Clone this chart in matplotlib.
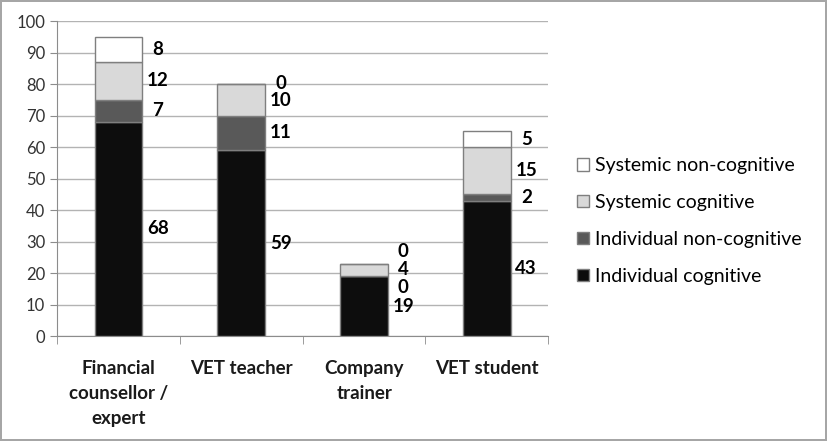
import matplotlib.pyplot as plt
import numpy as np

plt.rcParams['font.family'] = ['Lato', 'DejaVu Sans']

categories = ['Financial\ncounsellor /\nexpert', 'VET teacher', 'Company\ntrainer', 'VET student']
series = ['Individual cognitive', 'Individual non-cognitive', 'Systemic cognitive', 'Systemic non-cognitive']
ind_cog = [68, 59, 19, 43]
ind_noncog = [7, 11, 0, 2]
sys_cog = [12, 10, 4, 15]
sys_noncog = [8, 0, 0, 5]
colors = ['#0d0d0d', '#595959', '#d9d9d9', '#ffffff']


def spread(ys, gap):
    # push label positions apart so they don't overlap
    ys = list(ys)
    for _ in range(200):
        moved = False
        for k in range(len(ys) - 1):
            d = ys[k + 1] - ys[k]
            if d < gap - 1e-6:
                shift = (gap - d) / 2
                ys[k] -= shift
                ys[k + 1] += shift
                moved = True
        if not moved:
            break
    return ys


fig = plt.figure(figsize=(8.27, 4.41), dpi=100)
fig.patch.set_edgecolor('#a6a6a6')
fig.patch.set_linewidth(1.5)
ax = fig.add_axes([0.069, 0.238, 0.594, 0.714])

x = np.arange(len(categories))
width = 0.39
data = [ind_cog, ind_noncog, sys_cog, sys_noncog]
bottom = np.zeros(len(categories))
handles = []
for vals, name, col in zip(data, series, colors):
    b = ax.bar(x, vals, width, bottom=bottom, color=col, edgecolor='#7f7f7f',
               linewidth=1, label=name, zorder=3)
    handles.append(b)
    bottom += np.array(vals)

# data labels to the right of each bar
for i in range(len(categories)):
    mids = []
    base = 0
    for vals in data:
        mids.append(base + vals[i] / 2)
        base += vals[i]
    ys = spread(mids, 5.7)
    for vals, y in zip(data, ys):
        ax.text(x[i] + width / 2 + 0.125, y, str(vals[i]), ha='center', va='center',
                fontsize=13.5, fontweight='bold', color='#000000')

ax.set_xlim(-0.5, len(categories) - 0.5)
ax.set_ylim(0, 100)
ax.set_yticks(range(0, 101, 10))
ax.set_xticks(x)
ax.set_xticklabels(categories, fontsize=13.5, fontweight='bold', linespacing=1.6,
                   color='#1a1a1a')
ax.set_xticks(np.arange(-0.5, len(categories), 1), minor=True)
ax.tick_params(axis='x', which='major', length=0, pad=17)
ax.tick_params(axis='x', which='minor', length=6, color='#8c8c8c')
ax.tick_params(axis='y', length=5, color='#8c8c8c', labelsize=12, labelcolor='#333333')
ax.grid(axis='y', color='#b3b3b3', linewidth=1, zorder=0)
for s in ['top', 'right']:
    ax.spines[s].set_visible(False)
for s in ['left', 'bottom']:
    ax.spines[s].set_color('#8c8c8c')

ax.legend(handles[::-1], series[::-1], loc='center left', bbox_to_anchor=(0.677, 0.499),
          bbox_transform=fig.transFigure, frameon=False, fontsize=14,
          handlelength=0.6, handleheight=0.6, handletextpad=0.3, labelspacing=1.02)

fig.savefig('out.png', dpi=100)
